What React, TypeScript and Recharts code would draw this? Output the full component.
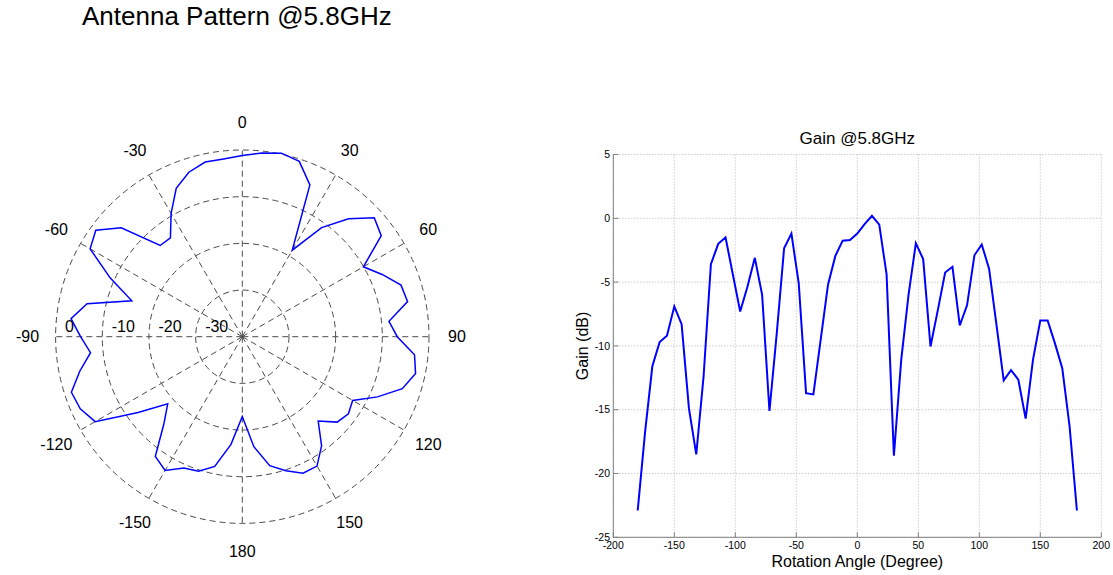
import {
  LineChart,
  Line,
  XAxis,
  YAxis,
  CartesianGrid,
  RadarChart,
  Radar,
  PolarGrid,
  PolarAngleAxis,
  PolarRadiusAxis,
} from "recharts"

const angles = [
  -180, -174, -168, -162, -156, -150, -144, -138, -132, -126, -120, -114, -108, -102, -96, -90,
  -84, -78, -72, -66, -60, -54, -48, -42, -36, -30, -24, -18, -12, -6, 0, 6, 12, 18, 24, 30, 36,
  42, 48, 54, 60, 66, 72, 78, 84, 90, 96, 102, 108, 114, 120, 126, 132, 138, 144, 150, 156, 162,
  168, 174, 180,
]
const gains = [
  -22.9, -16.8, -11.6, -9.7, -9.2, -6.9, -8.3, -14.9, -18.5, -12.4, -3.6, -2.0, -1.5, -4.4, -7.3,
  -5.35, -3.1, -6.0, -15.1, -9.0, -2.35, -1.2, -5.1, -13.7, -13.8, -9.5, -5.2, -2.95, -1.75, -1.7,
  -1.2, -0.45, 0.2, -0.5, -4.4, -18.6, -11.1, -6.0, -1.95, -3.2, -10.05, -7.2, -4.25, -3.8, -8.4,
  -6.8, -2.9, -2.05, -3.95, -8.3, -12.7, -11.9, -12.65, -15.7, -11.1, -8.0, -8.0, -9.8, -11.75,
  -16.3, -22.9,
]

const xTicks = [-200, -150, -100, -50, 0, 50, 100, 150, 200]
const yTicks = [-25, -20, -15, -10, -5, 0, 5]
// -180 and 180 fall on the same spoke, so only one of them is kept (shown as 180)
const polarAngleTicks = [-180, -150, -120, -90, -60, -30, 0, 30, 60, 90, 120, 150]
const polarRingTicks = [-40, -30, -20, -10, 0]

const data = angles.map((angle, i) => ({ angle, gain: gains[i] }))

const FONT = '"Liberation Sans", Arial, sans-serif'

function AngleTick(props: any) {
  const { x, y, payload } = props
  const label = payload.value === -180 ? 180 : payload.value
  return (
    <text x={x} y={y} textAnchor="middle" dominantBaseline="central" fontSize={16} fontFamily={FONT} fill="#000">
      {label}
    </text>
  )
}

function RingTick(props: any) {
  const { x, y, payload } = props
  if (payload.value === -40) return <g />
  return (
    <text x={x + 9.5} y={y - 4.3} textAnchor="start" fontSize={16} fontFamily={FONT} fill="#000">
      {payload.value}
    </text>
  )
}

export default function App() {
  return (
    <div style={{ position: "absolute", left: 0, top: 0, width: 1113, height: 575, background: "#fff", fontFamily: FONT }}>
      <div style={{ position: "absolute", left: 82, top: 3, fontSize: 26, lineHeight: "26px", whiteSpace: "nowrap", color: "#000" }}>
        Antenna Pattern @5.8GHz
      </div>

      <div style={{ position: "absolute", left: 0, top: 100 }}>
        <RadarChart
          width={480}
          height={475}
          data={data}
          cx={242.3}
          cy={236.7}
          outerRadius={186.7}
          startAngle={270}
          endAngle={-90}
          margin={{ top: 0, right: 0, bottom: 0, left: 0 }}
        >
          <PolarGrid gridType="circle" stroke="#4a4a4a" strokeDasharray="6 4" />
          <PolarAngleAxis
            dataKey="angle"
            type="number"
            domain={[-180, 180]}
            ticks={polarAngleTicks}
            tickCount={13}
            tickSize={28}
            tickLine={false}
            axisLine={false}
            tick={AngleTick}
          />
          <PolarRadiusAxis
            angle={180}
            type="number"
            domain={[-40, 0]}
            ticks={polarRingTicks}
            tickCount={5}
            allowDataOverflow
            axisLine={false}
            tick={RingTick}
          />
          <Radar
            dataKey="gain"
            stroke="#0000ff"
            strokeWidth={1.5}
            fill="none"
            fillOpacity={0}
            dot={false}
            isAnimationActive={false}
          />
        </RadarChart>
      </div>

      <div style={{ position: "absolute", left: 757.3, top: 129.9, width: 200, textAlign: "center", fontSize: 17, lineHeight: "17px", color: "#000" }}>
        Gain @5.8GHz
      </div>

      <div style={{ position: "absolute", left: 550, top: 120 }}>
        <LineChart width={563} height={455} data={data} margin={{ top: 34.5, right: 11.7, bottom: 0, left: 0.7 }}>
          <CartesianGrid stroke="#b4b4b4" strokeDasharray="1 2" />
          <XAxis
            dataKey="angle"
            type="number"
            domain={[-200, 200]}
            ticks={xTicks}
            interval={0}
            height={37.7}
            tickSize={-5}
            tickMargin={9.7}
            stroke="#808080"
            tick={{ fill: "#000", fontSize: 10.5, fontFamily: FONT }}
            label={{ value: "Rotation Angle (Degree)", position: "insideBottom", offset: 8, fontSize: 16, fill: "#000", fontFamily: FONT }}
          />
          <YAxis
            type="number"
            domain={[-25, 5]}
            ticks={yTicks}
            interval={0}
            width={62.6}
            tickSize={-5}
            tickMargin={8.3}
            stroke="#808080"
            tick={{ fill: "#000", fontSize: 10.5, fontFamily: FONT }}
            label={{ value: "Gain (dB)", angle: -90, position: "center", fontSize: 16, fill: "#000", fontFamily: FONT }}
          />
          <XAxis xAxisId="top" orientation="top" type="number" domain={[-200, 200]} ticks={xTicks} height={0} tick={false} tickSize={-5} stroke="#808080" />
          <YAxis yAxisId="right" orientation="right" type="number" domain={[-25, 5]} ticks={yTicks} width={0} tick={false} tickSize={-5} stroke="#808080" />
          <Line type="linear" dataKey="gain" stroke="#0000ff" strokeWidth={2} dot={false} isAnimationActive={false} />
        </LineChart>
      </div>
    </div>
  )
}
